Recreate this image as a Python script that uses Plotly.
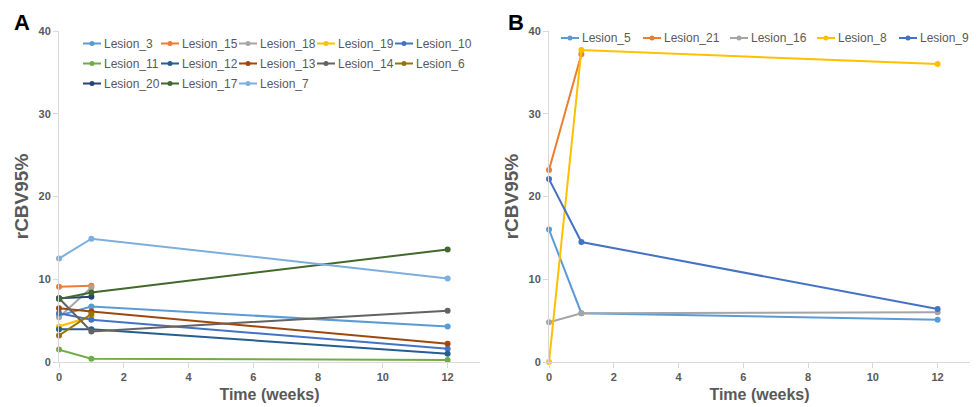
import plotly.graph_objects as go

weeks3 = [0, 1, 12]
weeks2 = [0, 1]

# Panel A
a_names = ["Lesion_3", "Lesion_15", "Lesion_18", "Lesion_19", "Lesion_10",
           "Lesion_11", "Lesion_12", "Lesion_13", "Lesion_14", "Lesion_6",
           "Lesion_20", "Lesion_17", "Lesion_7"]
a_values = {
    "Lesion_3": [5.6, 6.7, 4.3],
    "Lesion_15": [9.1, 9.2],
    "Lesion_18": [5.4, 9.0],
    "Lesion_19": [4.3, 5.5],
    "Lesion_10": [5.9, 5.1, 1.6],
    "Lesion_11": [1.5, 0.4, 0.25],
    "Lesion_12": [3.95, 3.95, 1.0],
    "Lesion_13": [6.5, 6.1, 2.2],
    "Lesion_14": [7.7, 3.7, 6.2],
    "Lesion_6": [3.2, 5.8],
    "Lesion_20": [7.7, 7.9],
    "Lesion_17": [7.6, 8.4, 13.6],
    "Lesion_7": [12.5, 14.9, 10.1],
}
a_colors = ["#5B9BD5", "#ED7D31", "#A5A5A5", "#FFC000", "#4472C4",
            "#70AD47", "#255E91", "#9E480E", "#636363", "#997300",
            "#264478", "#43682B", "#7CAFDD"]

# Panel B
b_names = ["Lesion_5", "Lesion_21", "Lesion_16", "Lesion_8", "Lesion_9"]
b_values = {
    "Lesion_5": [16.0, 5.9, 5.1],
    "Lesion_21": [23.2, 37.2],
    "Lesion_16": [4.8, 5.9, 6.0],
    "Lesion_8": [0.0, 37.7, 36.0],
    "Lesion_9": [22.1, 14.5, 6.4],
}
b_colors = ["#5B9BD5", "#ED7D31", "#A5A5A5", "#FFC000", "#4472C4"]

FONT = "Liberation Sans, Arial, sans-serif"
GRAY = "#595959"
AXC = "#D9D9D9"
W, H = 978, 407
T, B = 31, 45

fig = go.Figure()

for i, n in enumerate(a_names):
    v = a_values[n]
    x = weeks3 if len(v) == 3 else weeks2
    fig.add_trace(go.Scatter(x=x, y=v, name=n, mode="lines+markers",
                             line=dict(color=a_colors[i], width=2),
                             marker=dict(color=a_colors[i], size=6),
                             cliponaxis=False, xaxis="x", yaxis="y", showlegend=False))

for i, n in enumerate(b_names):
    v = b_values[n]
    x = weeks3 if len(v) == 3 else weeks2
    fig.add_trace(go.Scatter(x=x, y=v, name=n, mode="lines+markers",
                             line=dict(color=b_colors[i], width=2),
                             marker=dict(color=b_colors[i], size=6),
                             cliponaxis=False, xaxis="x2", yaxis="y2", showlegend=False))

# Custom compact legends (Excel-style short line samples) drawn on a pixel-like overlay axis
annotations = []

def legend_entry(x0, yc, name, color):
    fig.add_trace(go.Scatter(x=[x0, x0 + 9, x0 + 18], y=[yc, yc, yc], mode="lines",
                             line=dict(color=color, width=2), xaxis="x3", yaxis="y3",
                             showlegend=False, hoverinfo="skip", cliponaxis=False))
    fig.add_trace(go.Scatter(x=[x0 + 9], y=[yc], mode="markers",
                             marker=dict(color=color, size=5), xaxis="x3", yaxis="y3",
                             showlegend=False, hoverinfo="skip", cliponaxis=False))
    annotations.append(dict(text=name, x=x0 + 19, y=yc, xref="x3", yref="y3",
                            xanchor="left", yanchor="middle", showarrow=False,
                            font=dict(family=FONT, size=12, color=GRAY)))

for k, n in enumerate(a_names):
    legend_entry(83 + 78 * (k % 5), 43.5 + 20 * (k // 5), n, a_colors[k])

xpos = 561
for k, n in enumerate(b_names):
    legend_entry(xpos, 38, n, b_colors[k])
    xpos += 42 + 5 * len(n)

dA = [59 / W, 480 / W]
dB = [549 / W, 970 / W]

def xax(domain, anchor):
    return dict(domain=domain, anchor=anchor, range=[0, 13], tickvals=[0, 2, 4, 6, 8, 10, 12],
                showgrid=False, zeroline=False, showline=True, linecolor=AXC, linewidth=1,
                ticks="outside", ticklen=5, tickcolor=AXC,
                tickfont=dict(family=FONT, size=11, color=GRAY, weight="bold"),
                title=dict(text="Time (weeks)", font=dict(family=FONT, size=16, color=GRAY, weight="bold"),
                           standoff=6))

def yax(domain, anchor):
    return dict(domain=domain, anchor=anchor, range=[0, 40], tickvals=[0, 10, 20, 30, 40],
                showgrid=False, zeroline=False, showline=True, linecolor=AXC, linewidth=1,
                ticks="outside", ticklen=5, tickcolor=AXC,
                tickfont=dict(family=FONT, size=11, color=GRAY, weight="bold"),
                title=dict(text="rCBV95%", font=dict(family=FONT, size=19, color=GRAY, weight="bold"),
                           standoff=4))

annotations += [
    dict(text="A", x=12 / W, y=1.027, xref="paper", yref="paper", xanchor="left", yanchor="middle",
         showarrow=False, font=dict(family=FONT, size=22, color="black", weight="bold")),
    dict(text="B", x=506 / W, y=1.027, xref="paper", yref="paper", xanchor="left", yanchor="middle",
         showarrow=False, font=dict(family=FONT, size=22, color="black", weight="bold")),
]

fig.update_layout(
    width=W, height=H,
    margin=dict(l=0, r=0, t=T, b=B, autoexpand=False),
    paper_bgcolor="white", plot_bgcolor="rgba(0,0,0,0)",
    showlegend=False,
    xaxis=xax(dA, "y"), yaxis=yax([0, 1], "x"),
    xaxis2=xax(dB, "y2"), yaxis2=yax([0, 1], "x2"),
    xaxis3=dict(domain=[0, 1], anchor="y3", range=[0, W], visible=False, fixedrange=True),
    yaxis3=dict(domain=[0, 1], anchor="x3", range=[H - B, T], visible=False, fixedrange=True),
    annotations=annotations,
)

fig.write_html("out.html")
